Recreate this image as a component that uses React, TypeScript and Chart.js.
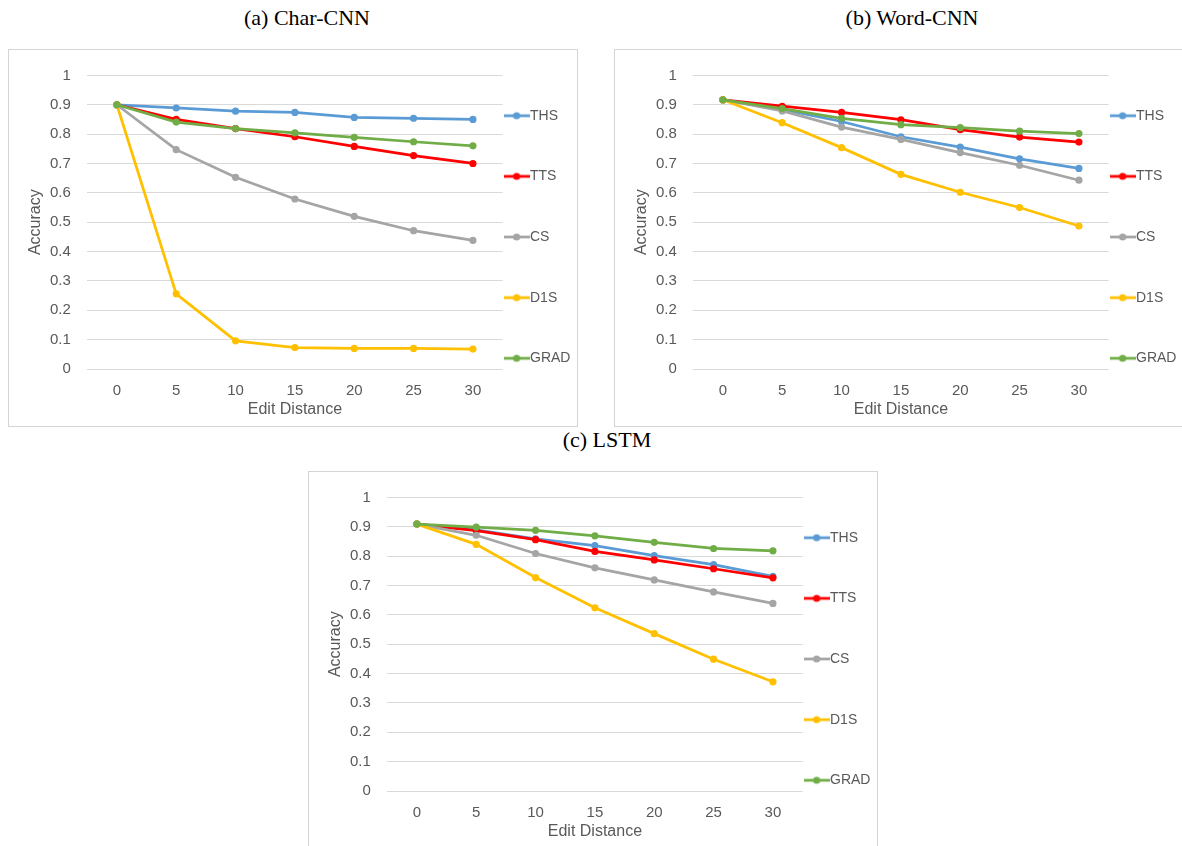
import React, { useEffect, useRef } from 'react';
import { Chart, registerables } from 'chart.js';

Chart.register(...registerables);

// ---------- data ----------
const categories = ['0', '5', '10', '15', '20', '25', '30'];
const seriesNames = ['THS', 'TTS', 'CS', 'D1S', 'GRAD'];
const seriesColors = ['#5B9BD5', '#FF0000', '#A5A5A5', '#FFC000', '#70AD47'];
const yTickLabels = ['0', '0.1', '0.2', '0.3', '0.4', '0.5', '0.6', '0.7', '0.8', '0.9', '1'];
const xAxisTitle = 'Edit Distance';
const yAxisTitle = 'Accuracy';
const panelTitles = ['(a) Char-CNN', '(b) Word-CNN', '(c) LSTM'];

const charCnnTHS = [0.9, 0.889, 0.878, 0.874, 0.857, 0.854, 0.85];
const charCnnTTS = [0.9, 0.85, 0.819, 0.791, 0.758, 0.727, 0.7];
const charCnnCS = [0.9, 0.747, 0.653, 0.579, 0.52, 0.471, 0.438];
const charCnnD1S = [0.9, 0.256, 0.096, 0.073, 0.07, 0.07, 0.068];
const charCnnGRAD = [0.9, 0.841, 0.819, 0.804, 0.789, 0.774, 0.76];

const wordCnnTHS = [0.917, 0.884, 0.843, 0.791, 0.756, 0.716, 0.683];
const wordCnnTTS = [0.917, 0.895, 0.874, 0.849, 0.815, 0.79, 0.773];
const wordCnnCS = [0.917, 0.879, 0.824, 0.782, 0.737, 0.694, 0.643];
const wordCnnD1S = [0.917, 0.839, 0.754, 0.663, 0.602, 0.55, 0.487];
const wordCnnGRAD = [0.917, 0.887, 0.854, 0.832, 0.822, 0.81, 0.802];

const lstmTHS = [0.909, 0.889, 0.859, 0.836, 0.802, 0.771, 0.731];
const lstmTTS = [0.909, 0.887, 0.856, 0.816, 0.787, 0.757, 0.726];
const lstmCS = [0.909, 0.871, 0.809, 0.76, 0.719, 0.678, 0.639];
const lstmD1S = [0.909, 0.84, 0.727, 0.624, 0.536, 0.449, 0.372];
const lstmGRAD = [0.909, 0.899, 0.888, 0.869, 0.847, 0.826, 0.818];

const charCnnSeries = [charCnnTHS, charCnnTTS, charCnnCS, charCnnD1S, charCnnGRAD];
const wordCnnSeries = [wordCnnTHS, wordCnnTTS, wordCnnCS, wordCnnD1S, wordCnnGRAD];
const lstmSeries = [lstmTHS, lstmTTS, lstmCS, lstmD1S, lstmGRAD];

// ---------- style ----------
const FONT = '"Liberation Sans", Arial, sans-serif';
const TEXT = '#595959';
const GRID = '#D9D9D9';
const CANVAS_W = 568;
const CANVAS_H = 376;

function makeMarker(color: string) {
  const c = document.createElement('canvas');
  c.width = 26;
  c.height = 10;
  const ctx = c.getContext('2d');
  if (ctx) {
    ctx.strokeStyle = color;
    ctx.lineWidth = 2.75;
    ctx.beginPath();
    ctx.moveTo(0, 5);
    ctx.lineTo(26, 5);
    ctx.stroke();
    ctx.fillStyle = color;
    ctx.beginPath();
    ctx.arc(13, 5, 3.6, 0, Math.PI * 2);
    ctx.fill();
  }
  return c;
}

function Panel(props: { series: number[][]; left: number; top: number }) {
  const ref = useRef<HTMLCanvasElement | null>(null);
  useEffect(() => {
    if (!ref.current) return;
    const chart = new Chart(ref.current, {
      type: 'line',
      data: {
        labels: categories,
        datasets: seriesNames.map((name, i) => ({
          label: name,
          data: props.series[i],
          borderColor: seriesColors[i],
          backgroundColor: seriesColors[i],
          pointBackgroundColor: seriesColors[i],
          pointBorderColor: seriesColors[i],
          borderWidth: 2.75,
          pointRadius: 3.6,
          pointBorderWidth: 0,
          pointHoverRadius: 3.6,
          tension: 0,
          fill: false,
          order: seriesNames.length - 1 - i,
        })),
      },
      options: {
        animation: false,
        responsive: false,
        maintainAspectRatio: false,
        events: [],
        layout: { padding: { left: 10, top: 17.7, right: 0.4, bottom: -19.35 } },
        plugins: {
          tooltip: { enabled: false },
          legend: {
            position: 'right',
            align: 'center',
            maxWidth: 74,
            labels: {
              usePointStyle: true,
              pointStyleWidth: 12.8,
              padding: 7.6,
              color: TEXT,
              font: { family: FONT, size: 14, lineHeight: '53.05px' },
              sort: (a: any, b: any) => a.datasetIndex - b.datasetIndex,
              generateLabels: (chart: any) =>
                (Chart.defaults.plugins.legend.labels as any)
                  .generateLabels(chart)
                  .map((item: any) => ({
                    ...item,
                    text: [item.text],
                    pointStyle: makeMarker(seriesColors[item.datasetIndex]),
                  })),
            },
          },
        },
        scales: {
          x: {
            offset: true,
            grid: { display: false, drawTicks: false },
            border: { display: false },
            ticks: {
              color: TEXT,
              font: { family: FONT, size: 15 },
              padding: 12.7,
              maxRotation: 0,
              autoSkip: false,
            },
            title: {
              display: true,
              text: xAxisTitle,
              color: TEXT,
              font: { family: FONT, size: 16 },
              padding: { top: 0, bottom: 26.45 },
            },
            afterFit: (s: any) => {
              s.height = 76.35;
            },
          },
          y: {
            min: 0,
            max: 1,
            grid: { color: GRID, lineWidth: 1, drawTicks: false },
            border: { display: false },
            ticks: {
              stepSize: 0.1,
              color: TEXT,
              font: { family: FONT, size: 15 },
              padding: 16.4,
              callback: (_v: any, i: number) => yTickLabels[i],
            },
            title: {
              display: true,
              text: yAxisTitle,
              color: TEXT,
              font: { family: FONT, size: 16 },
              padding: { top: 7.4, bottom: 0 },
            },
            afterFit: (s: any) => {
              s.width = 68.2;
            },
          },
        },
      } as any,
    });
    return () => chart.destroy();
  }, []);
  return (
    <div
      style={{
        position: 'absolute',
        left: props.left,
        top: props.top,
        width: CANVAS_W + 2,
        height: CANVAS_H + 2,
        border: '1px solid #D4D4D4',
        boxSizing: 'border-box',
        background: '#fff',
      }}
    >
      <canvas ref={ref} width={CANVAS_W} height={CANVAS_H} style={{ display: 'block', width: CANVAS_W, height: CANVAS_H }} />
    </div>
  );
}

function Title(props: { text: string; cx: number; cy: number }) {
  return (
    <div
      style={{
        position: 'absolute',
        left: props.cx - 150,
        top: props.cy - 13,
        width: 300,
        height: 26,
        lineHeight: '26px',
        textAlign: 'center',
        fontFamily: '"Liberation Serif", "Times New Roman", serif',
        fontSize: 22,
        color: '#000',
        whiteSpace: 'nowrap',
      }}
    >
      {props.text}
    </div>
  );
}

export default function App() {
  return (
    <div
      style={{
        position: 'absolute',
        left: 0,
        top: 0,
        width: 1182,
        height: 846,
        overflow: 'hidden',
        background: '#fff',
      }}
    >
      <Title text={panelTitles[0]} cx={307} cy={18} />
      <Title text={panelTitles[1]} cx={912} cy={18} />
      <Title text={panelTitles[2]} cx={607} cy={440} />
      <Panel series={charCnnSeries} left={8} top={49} />
      <Panel series={wordCnnSeries} left={614} top={49} />
      <Panel series={lstmSeries} left={308} top={471} />
    </div>
  );
}
